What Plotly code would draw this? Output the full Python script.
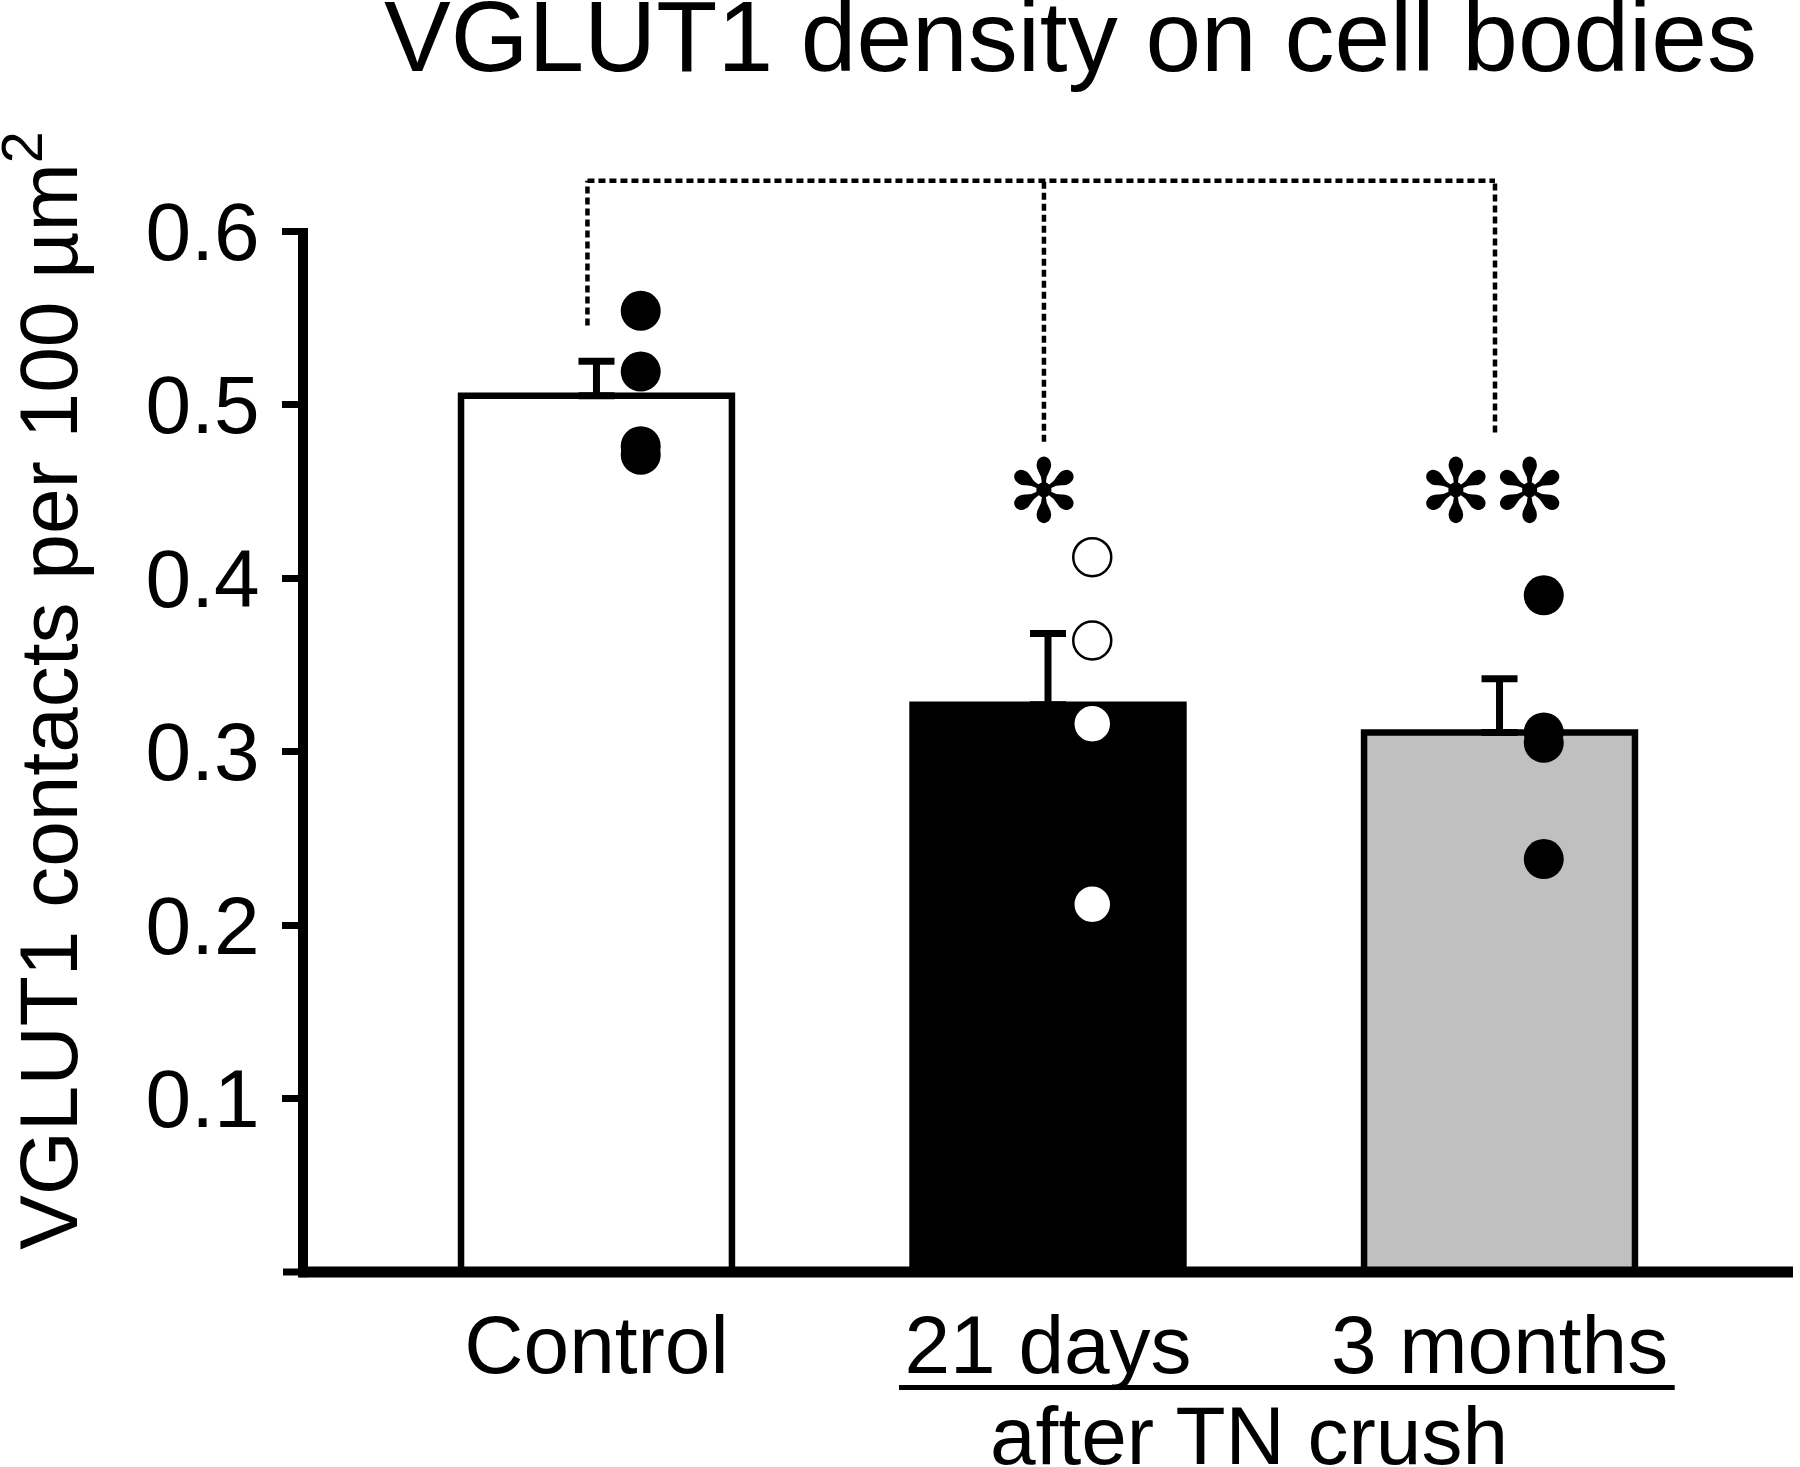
import plotly.graph_objects as go

# ---------------- data ----------------
categories = ["Control", "21 days", "3 months"]
means = [0.505, 0.327, 0.311]
sem = [0.020, 0.041, 0.031]
control_pts = [0.554, 0.519, 0.476, 0.471]
days21_pts = [0.412, 0.364, 0.316, 0.212]
months3_pts = [0.390, 0.311, 0.305, 0.238]
ytick_vals = [0.1, 0.2, 0.3, 0.4, 0.5, 0.6]
ytick_text = ["0.1", "0.2", "0.3", "0.4", "0.5", "0.6"]
sig_labels = ["*", "**"]

# ---------------- style ----------------
FONT = "Liberation Sans, Arial, Helvetica, sans-serif"
Y_MAX = 0.6
X_RANGE = [-0.65, 2.65]
DOT_OFFSET = 0.098
bar_colors = ["#ffffff", "#000000", "#c0c0c0"]
PLOT_W = 1490  # plot-area width in px (for tick-stub length in paper units)

def ypaper(v):
    return v / Y_MAX

fig = go.Figure()

fig.add_trace(go.Bar(
    x=[0, 1, 2], y=means, width=0.6,
    marker=dict(color=bar_colors, line=dict(color="black", width=6.5)),
    error_y=dict(type="data", symmetric=False, array=sem,
                 arrayminus=[0, 0, 0], color="black", thickness=7, width=18),
    showlegend=False, hoverinfo="skip",
))

fig.add_trace(go.Scatter(
    x=[0 + DOT_OFFSET] * len(control_pts), y=control_pts, mode="markers",
    marker=dict(size=40, color="black", line=dict(width=0)),
    showlegend=False, cliponaxis=False, hoverinfo="skip",
))
fig.add_trace(go.Scatter(
    x=[1 + DOT_OFFSET] * len(days21_pts), y=days21_pts, mode="markers",
    marker=dict(size=38, color="white", line=dict(width=2.5, color="black")),
    showlegend=False, cliponaxis=False, hoverinfo="skip",
))
fig.add_trace(go.Scatter(
    x=[2 + DOT_OFFSET] * len(months3_pts), y=months3_pts, mode="markers",
    marker=dict(size=40, color="black", line=dict(width=0)),
    showlegend=False, cliponaxis=False, hoverinfo="skip",
))

shapes = []
# axis lines
shapes.append(dict(type="line", xref="paper", yref="paper", x0=0, x1=0, y0=-0.005, y1=1.003,
                   line=dict(color="black", width=10)))
shapes.append(dict(type="line", xref="paper", yref="paper", x0=-0.003, x1=1, y0=0, y1=0,
                   line=dict(color="black", width=11)))
# tick stub at zero
shapes.append(dict(type="line", xref="paper", yref="paper", x0=-20 / PLOT_W, x1=0, y0=0, y1=0,
                   line=dict(color="black", width=7)))

# significance bracket (dashed)
bracket_y = 0.629
dash = "7px,4px"
brk_x = [-0.02, 0.991, 1.99]
brk_bottom = [0.5455, 0.4786, 0.4838]
shapes.append(dict(type="line", xref="x", yref="paper", x0=brk_x[0], x1=brk_x[2],
                   y0=ypaper(bracket_y), y1=ypaper(bracket_y),
                   line=dict(color="black", width=4.5, dash=dash)))
for bx, bb in zip(brk_x, brk_bottom):
    shapes.append(dict(type="line", xref="x", yref="paper", x0=bx, x1=bx,
                       y0=ypaper(bb), y1=ypaper(bracket_y),
                       line=dict(color="black", width=4.5, dash=dash)))

# underline for grouped label
shapes.append(dict(type="line", xref="x", yref="paper", x0=0.67, x1=2.388, y0=-0.111, y1=-0.111,
                   line=dict(color="black", width=5)))

annotations = [
    dict(text="VGLUT1 density on cell bodies", xref="paper", yref="paper",
         x=0.5154, y=1.187, xanchor="center", yanchor="middle", showarrow=False,
         font=dict(family=FONT, size=100, color="black")),
    dict(text="VGLUT1 contacts per 100 µm<sup>2</sup>", xref="paper", yref="paper",
         x=-0.1755, y=0.558, xanchor="center", yanchor="middle", textangle=-90,
         showarrow=False, font=dict(family=FONT, size=82, color="black")),
    dict(text="after TN crush", xref="x", yref="paper", x=1.445, y=-0.157,
         xanchor="center", yanchor="middle", showarrow=False,
         font=dict(family=FONT, size=82, color="black")),
]
star_x = [0.991, 1.985]
for sx, lab in zip(star_x, sig_labels):
    annotations.append(dict(text=lab.replace("*", "✻"), x=sx, y=0.45, xref="x", yref="y",
                            xanchor="center", yanchor="middle", showarrow=False,
                            font=dict(family="DejaVu Sans", size=88, color="black")))

fig.update_layout(
    width=1800, height=1467,
    margin=dict(l=303, r=7, t=231, b=195, pad=0, autoexpand=False),
    paper_bgcolor="white", plot_bgcolor="white",
    bargap=0.4, hovermode=False,
    shapes=shapes, annotations=annotations,
    xaxis=dict(range=X_RANGE, tickvals=[0, 1, 2], ticktext=categories,
               showline=False, showgrid=False, zeroline=False, ticks="",
               automargin=False,
               tickfont=dict(family=FONT, size=82, color="black"),
               ticklabelstandoff=18),
    yaxis=dict(range=[0, Y_MAX], tickvals=ytick_vals, ticktext=ytick_text,
               showline=False, showgrid=False, zeroline=False, automargin=False,
               ticks="outside", ticklen=20, tickwidth=7, tickcolor="black",
               tickfont=dict(family=FONT, size=82, color="black"),
               ticklabelstandoff=6),
)

fig.write_html(
    "out.html",
    config={"displayModeBar": False, "staticPlot": True},
    post_script="document.body.style.margin='0';document.body.style.padding='0';"
                "document.body.style.overflow='hidden';",
)
